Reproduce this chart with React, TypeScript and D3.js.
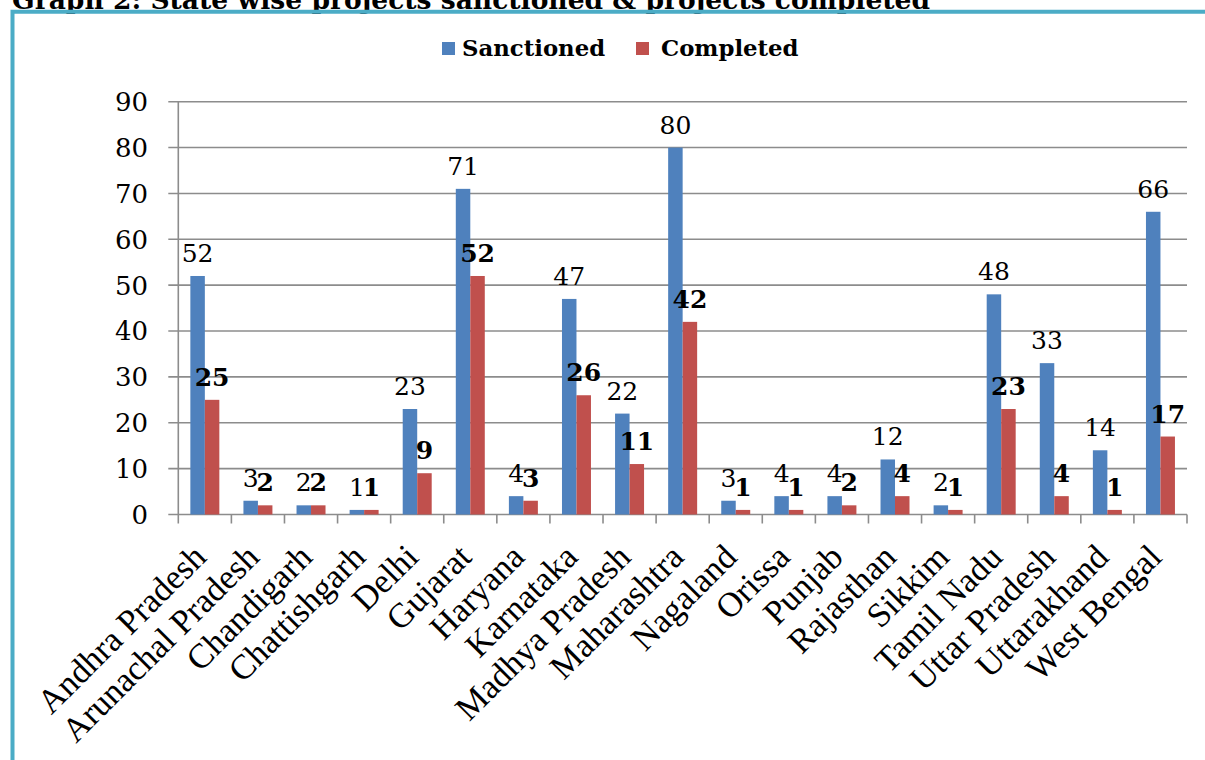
import React from 'react';
import * as d3 from 'd3';

const states = [
  'Andhra Pradesh', 'Arunachal Pradesh', 'Chandigarh', 'Chattishgarh', 'Delhi',
  'Gujarat', 'Haryana', 'Karnataka', 'Madhya Pradesh', 'Maharashtra', 'Nagaland',
  'Orissa', 'Punjab', 'Rajasthan', 'Sikkim', 'Tamil Nadu', 'Uttar Pradesh',
  'Uttarakhand', 'West Bengal',
];
const sanctioned = [52, 3, 2, 1, 23, 71, 4, 47, 22, 80, 3, 4, 4, 12, 2, 48, 33, 14, 66];
const completed = [25, 2, 2, 1, 9, 52, 3, 26, 11, 42, 1, 1, 2, 4, 1, 23, 4, 1, 17];
const yTicks = [0, 10, 20, 30, 40, 50, 60, 70, 80, 90];
const seriesNames = ['Sanctioned', 'Completed'];

const TITLE = 'Graph 2: State wise projects sanctioned & projects completed';
const BLUE = '#4F81BD';
const RED = '#C0504D';
const TEAL = '#4BACC6';
const GRID = '#8C8C8C';
const NUM_FONT = '"DejaVu Serif", Georgia, serif';
const CAT_FONT = '"Liberation Serif", "Times New Roman", serif';

export default function App() {
  const width = 1205;
  const height = 760;
  const left = 178.3;
  const right = 1187;
  const top = 101.7;
  const bottom = 514.5;

  const x = d3.scaleBand<string>().domain(states).range([left, right]).paddingInner(0).paddingOuter(0);
  const y = d3.scaleLinear().domain([0, 90]).range([bottom, top]);
  const barW = x.bandwidth() * 0.273;
  const groupW = barW * 2;
  const off = (x.bandwidth() - groupW) / 2;

  const rows = states.map((s, i) => ({ s, a: sanctioned[i], b: completed[i] }));

  // legend layout
  const legendItems = [
    { name: seriesNames[0], color: BLUE, sq: 442, tx: 462 },
    { name: seriesNames[1], color: RED, sq: 636, tx: 661 },
  ];

  return (
    <svg width={width} height={height} style={{ position: 'absolute', left: 0, top: 0, background: '#fff' }}>
      <text x={12} y={9} fontFamily={NUM_FONT} fontWeight="bold" fontSize={26}
        textLength={918} lengthAdjust="spacingAndGlyphs" fill="#000">{TITLE}</text>
      <path d={`M12.5,760 L12.5,11.7 L1205,11.7`} fill="none" stroke={TEAL} strokeWidth={4} />

      {legendItems.map(l => (
        <g key={l.name}>
          <rect x={l.sq} y={42} width={13} height={13} fill={l.color} />
          <text x={l.tx} y={56} fontFamily={NUM_FONT} fontWeight="bold" fontSize={22.8} fill="#000">{l.name}</text>
        </g>
      ))}

      {/* grid + y ticks */}
      {yTicks.map(t => (
        <g key={t}>
          <line x1={left - 10} x2={right} y1={y(t)} y2={y(t)} stroke={GRID} strokeWidth={1.6} />
          <text x={148} y={y(t)} dy="0.36em" textAnchor="end" fontFamily={NUM_FONT} fontSize={26} fill="#000">{t}</text>
        </g>
      ))}
      <line x1={left} x2={left} y1={top} y2={bottom} stroke={GRID} strokeWidth={1.6} />
      {/* category ticks */}
      {d3.range(states.length + 1).map(i => {
        const xx = left + i * x.step();
        return <line key={i} x1={xx} x2={xx} y1={bottom} y2={bottom + 9} stroke={GRID} strokeWidth={1.6} />;
      })}

      {/* bars */}
      {rows.map(r => (
        <g key={r.s}>
          <rect x={(x(r.s) as number) + off} y={y(r.a)} width={barW} height={y(0) - y(r.a)} fill={BLUE} />
          <rect x={(x(r.s) as number) + off + barW} y={y(r.b)} width={barW} height={y(0) - y(r.b)} fill={RED} />
        </g>
      ))}

      {/* data labels */}
      {rows.map(r => (
        <text key={'a' + r.s} x={(x(r.s) as number) + off + barW / 2} y={y(r.a) - 14}
          textAnchor="middle" fontFamily={NUM_FONT} fontSize={25} fill="#000">{r.a}</text>
      ))}
      {rows.map(r => (
        <text key={'b' + r.s} x={(x(r.s) as number) + off + barW * 1.5} y={y(r.b) - 14}
          textAnchor="middle" fontFamily={NUM_FONT} fontWeight="bold" fontSize={25} fill="#000">{r.b}</text>
      ))}

      {/* category labels */}
      {states.map(s => {
        const cx = (x(s) as number) + x.bandwidth() / 2 + 3;
        return (
          <text key={'l' + s} transform={`translate(${cx},${559}) rotate(-45)`} textAnchor="end"
            fontFamily={CAT_FONT} fontSize={34.5} fill="#000">{s}</text>
        );
      })}
    </svg>
  );
}
